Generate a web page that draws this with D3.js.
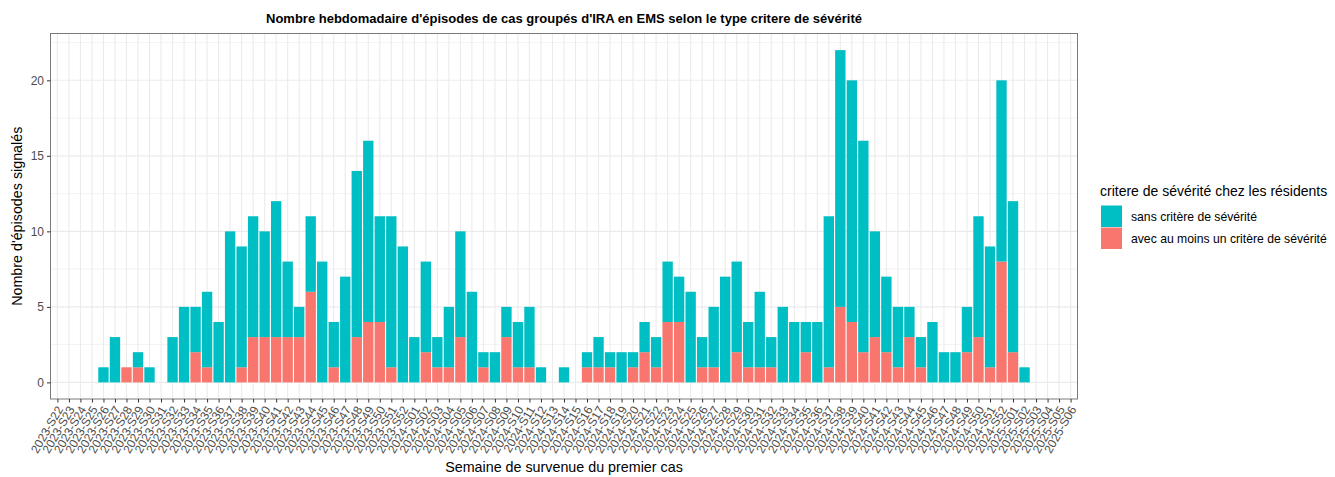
<!DOCTYPE html>
<html>
<head>
<meta charset="utf-8">
<script src="https://cdn.jsdelivr.net/npm/d3@7"></script>
<style>
  body { margin: 0; background: #fff; }
  svg text { font-family: "Liberation Sans", Arial, Helvetica, sans-serif; }
</style>
</head>
<body>
<div id="chart"></div>
<script>
const weeks = [
  "2023-S22","2023-S23","2023-S24","2023-S25","2023-S26","2023-S27","2023-S28","2023-S29","2023-S30","2023-S31",
  "2023-S32","2023-S33","2023-S34","2023-S35","2023-S36","2023-S37","2023-S38","2023-S39","2023-S40","2023-S41",
  "2023-S42","2023-S43","2023-S44","2023-S45","2023-S46","2023-S47","2023-S48","2023-S49","2023-S50","2023-S51",
  "2023-S52",
  "2024-S01","2024-S02","2024-S03","2024-S04","2024-S05","2024-S06","2024-S07","2024-S08","2024-S09","2024-S10",
  "2024-S11","2024-S12","2024-S13","2024-S14","2024-S15","2024-S16","2024-S17","2024-S18","2024-S19","2024-S20",
  "2024-S21","2024-S22","2024-S23","2024-S24","2024-S25","2024-S26","2024-S27","2024-S28","2024-S29","2024-S30",
  "2024-S31","2024-S32","2024-S33","2024-S34","2024-S35","2024-S36","2024-S37","2024-S38","2024-S39","2024-S40",
  "2024-S41","2024-S42","2024-S43","2024-S44","2024-S45","2024-S46","2024-S47","2024-S48","2024-S49","2024-S50",
  "2024-S51","2024-S52",
  "2025-S01","2025-S02","2025-S03","2025-S04","2025-S05","2025-S06"
];

// episodes sans critère de sévérité (teal)
const sansCritere = [
  0,0,0,0,1,3,0,1,1,0,
  3,5,3,5,4,10,8,8,7,9,
  5,2,5,8,3,7,11,12,7,10,
  9,
  3,6,2,4,7,6,1,2,2,3,
  4,1,0,1,0,1,2,1,2,1,
  2,2,4,3,6,2,4,7,6,3,
  5,2,5,4,2,4,10,17,16,14,
  7,5,4,2,2,4,2,2,3,8,
  8,12,
  10,1,0,0,0,0
];

// episodes avec au moins un critère de sévérité (red)
const avecCritere = [
  0,0,0,0,0,0,1,1,0,0,
  0,0,2,1,0,0,1,3,3,3,
  3,3,6,0,1,0,3,4,4,1,
  0,
  0,2,1,1,3,0,1,0,3,1,
  1,0,0,0,0,1,1,1,0,1,
  2,1,4,4,0,1,1,0,2,1,
  1,1,0,0,2,0,1,5,4,2,
  3,2,1,3,1,0,0,0,2,3,
  1,8,
  2,0,0,0,0,0
];

const yTicks = [0, 5, 10, 15, 20];
const yMinor = [2.5, 7.5, 12.5, 17.5, 22.5];

const seriesKeys = ["avec", "sans"];
const seriesColors = { sans: "#00BFC4", avec: "#F8766D" };
const legendLabels = [
  { key: "sans", label: "sans critère de sévérité" },
  { key: "avec", label: "avec au moins un critère de sévérité" }
];

const W = 1335, H = 477;
const panel = { left: 50.5, right: 1077.5, top: 33.5, bottom: 399 };
const gridColor = "#EBEBEB";
const textColor = "#4D4D4D";

const rows = weeks.map((w, i) => ({ week: w, sans: sansCritere[i], avec: avecCritere[i] }));
const stacked = d3.stack().keys(seriesKeys)(rows);

const svg = d3.select("#chart")
  .append("svg")
    .attr("width", W)
    .attr("height", H);

svg.append("rect").attr("width", W).attr("height", H).attr("fill", "#fff");

// ggplot-like discrete scale: 0.6 unit expansion on each side
const x = d3.scalePoint()
  .domain(weeks)
  .range([panel.left, panel.right])
  .padding(0.6);
const barW = x.step() * 0.9;

const maxTotal = d3.max(rows, d => d.sans + d.avec);
const y = d3.scaleLinear()
  .domain([-maxTotal * 0.05, maxTotal * 1.05])
  .range([panel.bottom, panel.top]);

// grid
const grid = svg.append("g");
grid.selectAll(".minor")
  .data(yMinor.filter(v => y(v) > panel.top))
  .enter().append("line")
    .attr("x1", panel.left).attr("x2", panel.right)
    .attr("y1", d => y(d)).attr("y2", d => y(d))
    .attr("stroke", gridColor).attr("stroke-width", 0.6);
grid.selectAll(".majorY")
  .data(yTicks)
  .enter().append("line")
    .attr("x1", panel.left).attr("x2", panel.right)
    .attr("y1", d => y(d)).attr("y2", d => y(d))
    .attr("stroke", gridColor).attr("stroke-width", 1.1);
grid.selectAll(".majorX")
  .data(weeks)
  .enter().append("line")
    .attr("x1", d => x(d)).attr("x2", d => x(d))
    .attr("y1", panel.top).attr("y2", panel.bottom)
    .attr("stroke", gridColor).attr("stroke-width", 1.1);

// bars
svg.append("g")
  .selectAll("g")
  .data(stacked)
  .enter().append("g")
    .attr("fill", d => seriesColors[d.key])
  .selectAll("rect")
  .data(d => d.filter(s => s[1] > s[0]))
  .enter().append("rect")
    .attr("x", d => x(d.data.week) - barW / 2)
    .attr("y", d => y(d[1]))
    .attr("width", barW)
    .attr("height", d => y(d[0]) - y(d[1]));

// panel border
svg.append("rect")
  .attr("x", panel.left).attr("y", panel.top)
  .attr("width", panel.right - panel.left)
  .attr("height", panel.bottom - panel.top)
  .attr("fill", "none")
  .attr("stroke", "#7a7a7a")
  .attr("stroke-width", 1);

// y axis
const yAxis = svg.append("g")
  .attr("transform", `translate(${panel.left},0)`)
  .call(d3.axisLeft(y).tickValues(yTicks).tickSize(3.5).tickPadding(3));
yAxis.select(".domain").remove();
yAxis.selectAll("line").attr("stroke", "#333");
yAxis.selectAll("text").attr("fill", textColor).style("font-size", "12px");

// x axis
const xAxis = svg.append("g")
  .attr("transform", `translate(0,${panel.bottom})`)
  .call(d3.axisBottom(x).tickSize(3.5));
xAxis.select(".domain").remove();
xAxis.selectAll("line").attr("stroke", "#333");
xAxis.selectAll("text")
  .attr("fill", textColor)
  .style("font-size", "12px")
  .style("text-anchor", "end")
  .attr("x", 0).attr("y", 0).attr("dy", "0.35em")
  .attr("transform", "translate(2,8) rotate(-60)");

// titles
svg.append("text")
  .attr("x", (panel.left + panel.right) / 2)
  .attr("y", 23)
  .attr("text-anchor", "middle")
  .style("font-size", "13px")
  .style("font-weight", "bold")
  .attr("fill", "#000")
  .text("Nombre hebdomadaire d'épisodes de cas groupés d'IRA en EMS selon le type critere de sévérité");

svg.append("text")
  .attr("x", (panel.left + panel.right) / 2)
  .attr("y", 472)
  .attr("text-anchor", "middle")
  .style("font-size", "14.3px")
  .attr("fill", "#000")
  .text("Semaine de survenue du premier cas");

svg.append("text")
  .attr("transform", `translate(22,${(panel.top + panel.bottom) / 2}) rotate(-90)`)
  .attr("text-anchor", "middle")
  .style("font-size", "14.3px")
  .attr("fill", "#000")
  .text("Nombre d'épisodes signalés");

// legend
const legend = svg.append("g").attr("transform", "translate(1100,0)");
legend.append("text")
  .attr("x", 0).attr("y", 196)
  .style("font-size", "14px")
  .attr("fill", "#000")
  .text("critere de sévérité chez les résidents");
const keyH = 21.5;
const items = legend.selectAll(".item")
  .data(legendLabels)
  .enter().append("g")
    .attr("transform", (d, i) => `translate(1,${205.5 + i * (keyH + 0.5)})`);
items.append("rect")
  .attr("width", 21).attr("height", keyH)
  .attr("fill", d => seriesColors[d.key]);
items.append("text")
  .attr("x", 30).attr("y", keyH / 2)
  .attr("dy", "0.35em")
  .style("font-size", "12.2px")
  .attr("fill", "#000")
  .text(d => d.label);
</script>
</body>
</html>
